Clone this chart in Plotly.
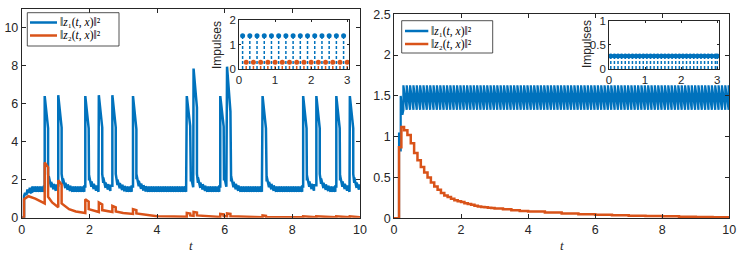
import numpy as np
import plotly.graph_objects as go

BLUE = "#0072BD"
RED = "#D95319"
AX = "#262626"

# ---------------- Left panel readings ----------------
L_spike_t = [0.68, 1.08, 1.88, 2.28, 2.68, 3.29, 4.88, 5.08, 5.87, 6.07, 7.12, 8.32, 8.71, 9.30, 9.70]
L_z1_peak = [6.40, 6.45, 6.40, 6.45, 6.45, 6.40, 6.40, 7.85, 6.40, 7.95, 6.40, 6.40, 6.40, 6.40, 6.40]
L_z1_shoulder = [4.70, 4.75, 4.70, 4.75, 4.75, 4.66, 4.84, 5.80, 4.80, 5.60, 4.70, 4.70, 4.70, 4.70, 4.70]
L_z1_drop = [2.30, 2.30, 2.30, 2.30, 2.30, 2.30, 2.10, 2.30, 2.20, 2.30, 2.30, 2.30, 2.30, 2.30, 2.30]
L_spike_width = 0.10
L_z1_init = [(0.00, 0.00), (0.07, 0.00), (0.07, 1.15), (0.10, 1.30), (0.14, 1.20), (0.17, 1.48),
             (0.21, 1.30), (0.24, 1.58), (0.28, 1.33)]
L_ripple_hi, L_ripple_lo, L_ripple_period = 1.64, 1.36, 0.07
L_settle_dt = [0.00, 0.05, 0.10, 0.20, 0.30]
L_settle_hi = [2.30, 2.00, 1.85, 1.72, 1.64]

L_z2_path = [
    (0.00, 0.00), (0.07, 0.00), (0.07, 0.97), (0.20, 1.13), (0.40, 1.00), (0.68, 0.75),
    (0.68, 2.90), (0.78, 2.65), (0.78, 1.10), (0.90, 0.80), (1.08, 0.55),
    (1.08, 1.97), (1.18, 1.75), (1.18, 0.75), (1.40, 0.45), (1.60, 0.33), (1.88, 0.25),
    (1.88, 0.97), (1.98, 0.85), (1.98, 0.45), (2.28, 0.30),
    (2.28, 0.80), (2.38, 0.70), (2.38, 0.40), (2.68, 0.30),
    (2.68, 0.62), (2.78, 0.55), (2.78, 0.33), (3.00, 0.25), (3.29, 0.20),
    (3.29, 0.45), (3.39, 0.40), (3.39, 0.22), (3.70, 0.13), (4.00, 0.08), (4.50, 0.06), (4.88, 0.05),
    (4.88, 0.25), (4.98, 0.22), (4.98, 0.12), (5.08, 0.10),
    (5.08, 0.30), (5.18, 0.27), (5.18, 0.12), (5.50, 0.07), (5.87, 0.04),
    (5.87, 0.20), (5.97, 0.18), (5.97, 0.08), (6.07, 0.07),
    (6.07, 0.22), (6.17, 0.20), (6.17, 0.08), (6.60, 0.04), (7.12, 0.03),
    (7.12, 0.12), (7.22, 0.10), (7.22, 0.04), (7.80, 0.02), (8.32, 0.02),
    (8.32, 0.07), (8.42, 0.06), (8.42, 0.03), (8.71, 0.02),
    (8.71, 0.07), (8.81, 0.06), (8.81, 0.03), (9.30, 0.02),
    (9.30, 0.07), (9.40, 0.06), (9.40, 0.03), (9.70, 0.02),
    (9.70, 0.07), (9.80, 0.06), (9.80, 0.03), (10.00, 0.02),
]

# ---------------- Right panel readings ----------------
R_z1_init = [(0.00, 0.00), (0.15, 0.00), (0.15, 1.05), (0.20, 0.82), (0.20, 1.50), (0.25, 1.27)]
R_ripple_hi, R_ripple_lo, R_ripple_period = 1.63, 1.33, 0.10

R_z2_t = [0.00, 0.15, 0.22, 0.30, 0.40, 0.50, 0.60, 0.70, 0.80, 0.90, 1.00, 1.10, 1.20, 1.30, 1.40,
          1.50, 1.60, 1.70, 1.80, 1.90, 2.00, 2.10, 2.20, 2.30, 2.40, 2.50, 2.60, 2.70, 2.80, 2.90,
          3.00, 3.25, 3.50, 3.75, 4.00, 4.50, 5.00, 5.50, 6.00, 6.50, 7.00, 7.50, 8.00, 8.50, 9.00,
          9.50, 10.00]
R_z2_v = [0.00, 0.87, 1.12, 1.08, 1.02, 0.92, 0.80, 0.71, 0.63, 0.56, 0.50, 0.44, 0.39, 0.35, 0.31,
          0.28, 0.26, 0.24, 0.22, 0.21, 0.20, 0.185, 0.175, 0.165, 0.155, 0.145, 0.14, 0.135, 0.13, 0.125,
          0.12, 0.11, 0.10, 0.09, 0.082, 0.07, 0.058, 0.05, 0.043, 0.037, 0.032, 0.028, 0.024, 0.02, 0.017,
          0.014, 0.012]

# ---------------- Inset (impulse) readings ----------------
LI_z1_t = [0.1, 0.3, 0.5, 0.7, 0.9, 1.1, 1.3, 1.5, 1.7, 1.9, 2.1, 2.3, 2.5, 2.7, 2.9]
LI_z1_v = [1.36] * len(LI_z1_t)
LI_z2_t = [0.2, 0.4, 0.6, 0.8, 1.0, 1.2, 1.4, 1.6, 1.8, 2.0, 2.2, 2.4, 2.6, 2.8, 3.0]
LI_z2_v = [0.28] * len(LI_z2_t)
RI_z1_t = [0.05, 0.15, 0.25, 0.35, 0.45, 0.55, 0.65, 0.75, 0.85, 0.95, 1.05, 1.15, 1.25, 1.35,
           1.45, 1.55, 1.65, 1.75, 1.85, 1.95, 2.05, 2.15, 2.25, 2.35, 2.45, 2.55, 2.65, 2.75,
           2.85, 2.95, 3.00]
RI_z1_v = [0.27] * len(RI_z1_t)

NAME1 = "‖<i>z</i>₁(<i>t</i>, <i>x</i>)‖²"
NAME2 = "‖<i>z</i>₂(<i>t</i>, <i>x</i>)‖²"


def build_z1(init, spikes, peaks, shoulders, drops, width, t0, t1, period, hi, lo,
             settle_dt, settle_hi):
    """Sawtooth ripple (jump up at each impulse, decay until next) with spike events."""
    xs = [p[0] for p in init]
    ys = [p[1] for p in init]
    grid = np.arange(t0, t1 + 1e-9, period)
    k = 0
    last_drop = None
    amp = hi - lo
    for t in grid:
        while k < len(spikes) and spikes[k] <= t:
            ts = spikes[k]
            xs += [ts, ts, ts + width, ts + width]
            ys += [ys[-1], peaks[k], shoulders[k], drops[k]]
            last_drop = ts + width
            k += 1
        if last_drop is not None and t < last_drop:
            continue
        if last_drop is None:
            upper = hi
        else:
            upper = float(np.interp(t - last_drop, settle_dt, settle_hi))
        xs += [float(t), float(t)]
        ys += [upper - amp, upper]
    return xs, ys


lx1, ly1 = build_z1(L_z1_init, L_spike_t, L_z1_peak, L_z1_shoulder, L_z1_drop, L_spike_width,
                    0.31, 10.0, L_ripple_period, L_ripple_hi, L_ripple_lo, L_settle_dt, L_settle_hi)
rx1, ry1 = build_z1(R_z1_init, [], [], [], [], 0.1,
                    0.28, 10.0, R_ripple_period, R_ripple_hi, R_ripple_lo, [0, 1], [R_ripple_hi, R_ripple_hi])

fig = go.Figure()

LW = 2.5
fig.add_trace(go.Scatter(x=lx1, y=ly1, mode="lines", line=dict(color=BLUE, width=LW),
                         name="‖z1(t,x)‖²", xaxis="x", yaxis="y", showlegend=False))
fig.add_trace(go.Scatter(x=[p[0] for p in L_z2_path], y=[p[1] for p in L_z2_path], mode="lines",
                         line=dict(color=RED, width=LW), name="‖z2(t,x)‖²", xaxis="x", yaxis="y",
                         showlegend=False))
fig.add_trace(go.Scatter(x=rx1, y=ry1, mode="lines", line=dict(color=BLUE, width=2.2),
                         name="‖z1(t,x)‖²", xaxis="x2", yaxis="y2", showlegend=False))
fig.add_trace(go.Scatter(x=R_z2_t, y=R_z2_v, mode="lines", line=dict(color=RED, width=LW, shape="hv"),
                         name="‖z2(t,x)‖²", xaxis="x2", yaxis="y2", showlegend=False))


def add_stems(ts, vs, color, xa, ya):
    sx, sy = [], []
    for t, v in zip(ts, vs):
        sx += [t, t, None]
        sy += [0, v, None]
    fig.add_trace(go.Scatter(x=sx, y=sy, mode="lines", line=dict(color=color, width=1.5, dash="3px,2px"),
                             xaxis=xa, yaxis=ya, showlegend=False, hoverinfo="skip"))
    fig.add_trace(go.Scatter(x=ts, y=vs, mode="markers", marker=dict(color=color, size=5),
                             xaxis=xa, yaxis=ya, showlegend=False))


add_stems(LI_z1_t, LI_z1_v, BLUE, "x3", "y3")
add_stems(LI_z2_t, LI_z2_v, RED, "x3", "y3")
add_stems(RI_z1_t, RI_z1_v, BLUE, "x4", "y4")

W, H = 743, 255


def fx(p):
    return p / W


def fy(p):
    return 1 - p / H


def axis(domain, rng, tickvals, anchor, size=12.5, ticklen=4):
    return dict(domain=domain, range=rng, tickvals=tickvals, anchor=anchor, automargin=False,
                showline=True, linecolor=AX, linewidth=0.8, mirror="ticks",
                ticks="inside", ticklen=ticklen, tickwidth=0.8, tickcolor=AX,
                showgrid=False, zeroline=False,
                tickfont=dict(family="Liberation Sans, Arial, sans-serif", size=size, color=AX))


SERIF = "Liberation Serif, DejaVu Serif, serif"
SANS = "Liberation Sans, Arial, sans-serif"

shapes = []
annotations = []


def manual_legend(x0, x1, y0, y1, lx0, lx1, rows, tx):
    shapes.append(dict(type="rect", xref="paper", yref="paper", x0=fx(x0), x1=fx(x1), y0=fy(y1), y1=fy(y0),
                       fillcolor="white", line=dict(color=AX, width=0.8), layer="above"))
    for (yy, color, name) in rows:
        shapes.append(dict(type="line", xref="paper", yref="paper", x0=fx(lx0), x1=fx(lx1), y0=fy(yy), y1=fy(yy),
                           line=dict(color=color, width=2.5), layer="above"))
        annotations.append(dict(text=name, x=fx(tx), y=fy(yy), xref="paper", yref="paper", showarrow=False,
                                xanchor="left", yanchor="middle", borderpad=0,
                                font=dict(family=SERIF, size=11.5, color="black")))


manual_legend(27.3, 119.0, 12.7, 46.0, 30.0, 57.0,
              [(22.5, BLUE, NAME1), (35.5, RED, NAME2)], 58.5)
manual_legend(401.7, 492.7, 20.7, 53.0, 405.0, 428.3,
              [(31.0, BLUE, NAME1), (44.0, RED, NAME2)], 430.0)

annotations += [
    dict(text="<i>t</i>", x=fx(190.8), y=fy(245), xref="paper", yref="paper", showarrow=False,
         xanchor="center", yanchor="middle", font=dict(family=SERIF, size=13, color=AX)),
    dict(text="<i>t</i>", x=fx(561.6), y=fy(245), xref="paper", yref="paper", showarrow=False,
         xanchor="center", yanchor="middle", font=dict(family=SERIF, size=13, color=AX)),
    dict(text="Impulses", x=fx(217.0), y=fy(45), xref="paper", yref="paper", showarrow=False,
         xanchor="center", yanchor="middle", textangle=-90, font=dict(family=SANS, size=12, color=AX)),
    dict(text="Impulses", x=fx(587.0), y=fy(44), xref="paper", yref="paper", showarrow=False,
         xanchor="center", yanchor="middle", textangle=-90, font=dict(family=SANS, size=12, color=AX)),
]

fig.update_layout(
    template="none",
    width=W, height=H, autosize=False,
    margin=dict(l=0, r=0, t=0, b=0, pad=0),
    paper_bgcolor="white", plot_bgcolor="white",
    showlegend=False,
    xaxis=axis([fx(21.7), fx(360.0)], [0, 10], [0, 2, 4, 6, 8, 10], "y"),
    yaxis=axis([fy(217.7), fy(8.7)], [0, 11], [0, 2, 4, 6, 8, 10], "x"),
    xaxis2=axis([fx(394.0), fx(729.3)], [0, 10], [0, 2, 4, 6, 8, 10], "y2"),
    yaxis2=axis([fy(218.3), fy(14.3)], [0, 2.5], [0, 0.5, 1, 1.5, 2, 2.5], "x2"),
    xaxis3=axis([fx(239.0), fx(349.0)], [0, 3.05], [0, 1, 2, 3], "y3", size=11.5, ticklen=2.5),
    yaxis3=axis([fy(69.0), fy(20.0)], [0, 2], [0, 1, 2], "x3", size=11.5, ticklen=2.5),
    xaxis4=axis([fx(609.0), fx(719.0)], [0, 3.05], [0, 1, 2, 3], "y4", size=11.5, ticklen=2.5),
    yaxis4=axis([fy(69.0), fy(20.7)], [0, 1], [0, 0.5, 1], "x4", size=11.5, ticklen=2.5),
    shapes=shapes,
    annotations=annotations,
)

fig.write_html("out.html", config={"displayModeBar": False},
               post_script="document.body.style.margin='0px';document.body.style.overflow='hidden';")
